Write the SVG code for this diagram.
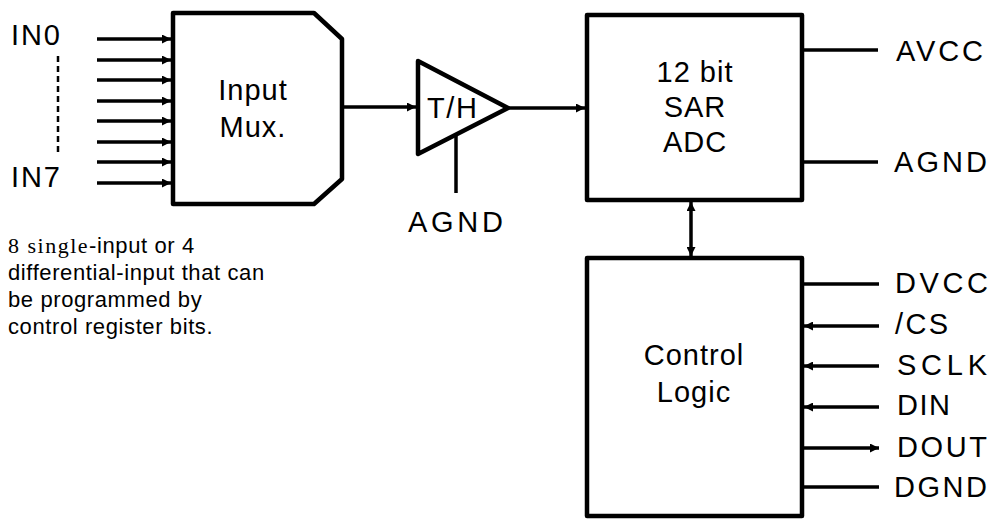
<svg xmlns="http://www.w3.org/2000/svg" width="992" height="519" viewBox="0 0 992 519">
<defs>
<style>
.box{fill:#fff;stroke:#000;stroke-width:4.5;stroke-linejoin:round}
.w{stroke:#000;stroke-width:3.5;fill:none}
.t{font-family:"Liberation Sans",Arial,sans-serif;font-size:29px;fill:#000}
.c{text-anchor:middle}
.n{font-family:"Liberation Sans",Arial,sans-serif;font-size:22px;fill:#000;letter-spacing:0.6px}
.s{font-family:"Liberation Serif","Times New Roman",serif;letter-spacing:1.5px}
</style>
<marker id="ah" markerUnits="userSpaceOnUse" viewBox="0 0 10 10" refX="10" refY="5" markerWidth="10" markerHeight="9" orient="auto">
<path d="M0,0 L10,5 L0,10 z" fill="#000"/>
</marker>
<marker id="as" markerUnits="userSpaceOnUse" viewBox="0 0 10 10" refX="0" refY="5" markerWidth="10" markerHeight="9" orient="auto">
<path d="M10,0 L0,5 L10,10 z" fill="#000"/>
</marker>
</defs>
<rect width="992" height="519" fill="#fff"/>

<g id="connectors">
<line class="w" x1="97" y1="39" x2="171" y2="39" marker-end="url(#ah)"/>
<line class="w" x1="97" y1="60" x2="171" y2="60" marker-end="url(#ah)"/>
<line class="w" x1="97" y1="80" x2="171" y2="80" marker-end="url(#ah)"/>
<line class="w" x1="97" y1="101" x2="171" y2="101" marker-end="url(#ah)"/>
<line class="w" x1="97" y1="121" x2="171" y2="121" marker-end="url(#ah)"/>
<line class="w" x1="97" y1="142" x2="171" y2="142" marker-end="url(#ah)"/>
<line class="w" x1="97" y1="162" x2="171" y2="162" marker-end="url(#ah)"/>
<line class="w" x1="97" y1="183" x2="171" y2="183" marker-end="url(#ah)"/>
<line x1="58" y1="56" x2="58" y2="154" stroke="#000" stroke-width="2.5" stroke-dasharray="6,4"/>
<line class="w" x1="344" y1="107" x2="416" y2="107" marker-end="url(#ah)"/>
<line class="w" x1="508" y1="108" x2="585" y2="108" marker-end="url(#ah)"/>
<line class="w" x1="456" y1="135" x2="456" y2="193"/>
<line class="w" x1="691" y1="202" x2="691" y2="256" marker-start="url(#as)" marker-end="url(#ah)"/>
<line class="w" x1="804" y1="50" x2="878" y2="50"/>
<line class="w" x1="804" y1="162" x2="878" y2="162"/>
<line class="w" x1="804" y1="284" x2="879" y2="284"/>
<line class="w" x1="879" y1="326" x2="804" y2="326" marker-end="url(#ah)"/>
<line class="w" x1="879" y1="366" x2="804" y2="366" marker-end="url(#ah)"/>
<line class="w" x1="879" y1="407" x2="804" y2="407" marker-end="url(#ah)"/>
<line class="w" x1="804" y1="448" x2="879" y2="448" marker-end="url(#ah)"/>
<line class="w" x1="804" y1="487" x2="879" y2="487"/>
</g>

<g id="inputs">
<text class="t" x="11" y="45" textLength="49" lengthAdjust="spacing">IN0</text>
<text class="t" x="11" y="187" textLength="49" lengthAdjust="spacing">IN7</text>
</g>

<g id="mux">
<path class="box" d="M173,13 L314,13 L342,39 L342,179 L314,204 L173,204 Z"/>
<text class="t c" x="253" y="100" letter-spacing="1">Input</text>
<text class="t c" x="253" y="137" letter-spacing="1">Mux.</text>
</g>

<g id="th">
<path class="box" d="M418,61 L508,108 L418,154 Z"/>
<text class="t" x="427" y="118" textLength="50" lengthAdjust="spacing">T/H</text>
<text class="t" x="408" y="232" textLength="95" lengthAdjust="spacing">AGND</text>
</g>

<g id="adc">
<rect class="box" x="587" y="15" width="215" height="185"/>
<text class="t c" x="695" y="82" letter-spacing="1">12 bit</text>
<text class="t c" x="695" y="117" letter-spacing="1">SAR</text>
<text class="t c" x="695" y="152" letter-spacing="1">ADC</text>
<text class="t" x="896" y="61" textLength="87" lengthAdjust="spacing">AVCC</text>
<text class="t" x="894" y="172" textLength="93" lengthAdjust="spacing">AGND</text>
</g>

<g id="control">
<rect class="box" x="587" y="258" width="215" height="258"/>
<text class="t c" x="694" y="365" letter-spacing="1">Control</text>
<text class="t c" x="694" y="402" letter-spacing="1">Logic</text>
<text class="t" x="895" y="293" textLength="93" lengthAdjust="spacing">DVCC</text>
<text class="t" x="895" y="334" textLength="53" lengthAdjust="spacing">/CS</text>
<text class="t" x="897" y="375" textLength="90" lengthAdjust="spacing">SCLK</text>
<text class="t" x="897" y="415" textLength="53" lengthAdjust="spacing">DIN</text>
<text class="t" x="897" y="457" textLength="90" lengthAdjust="spacing">DOUT</text>
<text class="t" x="894" y="497" textLength="93" lengthAdjust="spacing">DGND</text>
</g>

<g id="note">
<text class="n" x="8" y="253"><tspan class="s">8 single</tspan>-input or 4</text>
<text class="n" x="8" y="280">differential-input that can</text>
<text class="n" x="8" y="307">be programmed by</text>
<text class="n" x="8" y="334">control register bits.</text>
</g>
</svg>
